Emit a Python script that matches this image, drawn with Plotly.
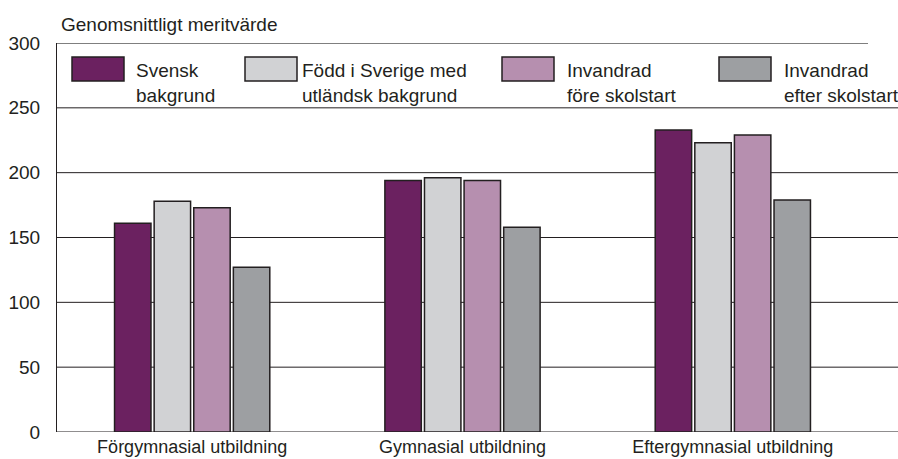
import plotly.graph_objects as go

categories = ["Förgymnasial utbildning", "Gymnasial utbildning", "Eftergymnasial utbildning"]
series_names = ["Svensk<br>bakgrund", "Född i Sverige med<br>utländsk bakgrund",
                "Invandrad<br>före skolstart", "Invandrad<br>efter skolstart"]
svensk = [161, 194, 233]
fodd = [178, 196, 223]
fore = [173, 194, 229]
efter = [127, 158, 179]
y_ticks = [0, 50, 100, 150, 200, 250, 300]

colors = ["#6B2160", "#D1D2D4", "#B68FAF", "#9D9FA2"]
values = [svensk, fodd, fore, efter]

W, H = 898, 459
L, R, T, B = 57, 30, 43, 27
PW, PH = W - L - R, H - T - B

def px(x):
    return (x - L) / PW

def py(y):
    return (H - B - y) / PH

FONT = "Liberation Sans"
fig = go.Figure()
for name, vals, c in zip(series_names, values, colors):
    fig.add_trace(go.Bar(
        x=categories, y=vals, name=name, marker_color=c,
        marker_line=dict(color="#231F20", width=1.5), showlegend=False,
    ))

fig.update_layout(
    width=W, height=H,
    margin=dict(l=L, r=R, t=T, b=B, autoexpand=False),
    paper_bgcolor="white", plot_bgcolor="white",
    barmode="group", bargap=0.414, bargroupgap=0.08,
    font=dict(family=FONT, size=19, color="#231F20"),
    xaxis=dict(showgrid=False, showline=False, ticks="", tickfont=dict(size=18),
               ticklabelstandoff=2, zeroline=False, automargin=False),
    yaxis=dict(range=[0, 300], tickvals=y_ticks, showgrid=False,
               zeroline=False, showline=True, linecolor="#231F20", linewidth=1.2,
               ticks="", tickfont=dict(size=19), ticklabelstandoff=12, automargin=False),
)

# gridlines (extending to the right edge), drawn beneath bars
for v in y_ticks[:-1]:
    fig.add_shape(type="line", xref="paper", yref="y", x0=0, x1=px(898), y0=v, y1=v,
                  line=dict(color="#231F20", width=1.2 if v == 0 else 1), layer="below")
fig.add_shape(type="line", xref="paper", yref="y", x0=0, x1=1, y0=300, y1=300,
              line=dict(color="#555555", width=1.5), layer="below")

# title
fig.add_annotation(text="Genomsnittligt meritvärde", xref="paper", yref="paper",
                   x=px(59), y=py(25), xanchor="left", yanchor="middle", showarrow=False,
                   font=dict(size=19))

# manual legend
swatch_x = [72, 245, 502, 719]
text_x = [134, 300, 565, 782]
for sx, tx, name, c in zip(swatch_x, text_x, series_names, colors):
    fig.add_shape(type="rect", xref="paper", yref="paper", x0=px(sx), x1=px(sx + 52),
                  y0=py(81), y1=py(57), fillcolor=c, line=dict(color="#231F20", width=1.5))
    fig.add_annotation(text=name, xref="paper", yref="paper", x=px(tx), y=py(83),
                       xanchor="left", yanchor="middle", align="left", showarrow=False,
                       font=dict(size=19))

fig.write_html("out.html", config={"displayModeBar": False},
               post_script="document.body.style.margin='0';document.body.style.padding='0';")
